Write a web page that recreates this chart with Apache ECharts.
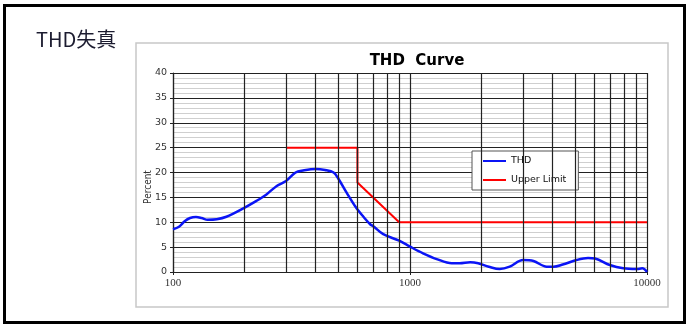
<!DOCTYPE html>
<html>
<head>
<meta charset="utf-8">
<script src="https://cdn.jsdelivr.net/npm/echarts@6/dist/echarts.min.js"></script>
<style>html,body{margin:0;padding:0;background:#fff;}#c{width:689px;height:328px;}</style>
</head>
<body>
<div id="c"></div>
<script>
// Data
var thdFreq = [100, 106, 112, 118, 125, 132, 140, 153, 168, 198, 225, 248, 274, 300, 329, 354, 400, 438, 476, 498, 541, 595, 636, 679, 700, 771, 900, 1000, 1135, 1296, 1500, 1620, 1795, 1940, 2150, 2390, 2635, 3000, 3320, 3775, 4030, 4410, 5040, 5640, 6040, 6970, 7940, 9050, 9550, 10000];
var thdValues = [8.6, 9.1, 10.2, 10.85, 11.05, 10.85, 10.5, 10.6, 11.1, 12.8, 14.3, 15.6, 17.3, 18.3, 20.0, 20.4, 20.7, 20.5, 20.0, 18.8, 15.9, 12.8, 11.1, 9.6, 9.2, 7.6, 6.3, 5.1, 3.75, 2.6, 1.75, 1.75, 1.95, 1.75, 1.07, 0.6, 1.07, 2.4, 2.2, 1.07, 1.07, 1.5, 2.4, 2.8, 2.7, 1.4, 0.74, 0.6, 0.74, 0.0];
var limitFreq = [300, 600, 600, 900, 10000];
var limitValues = [25, 25, 18, 10, 10];
var minorFreqs = [200, 300, 400, 500, 600, 700, 800, 900, 2000, 3000, 4000, 5000, 6000, 7000, 8000, 9000];
var seriesNames = ['THD', 'Upper Limit'];
var chartTitle = 'THD  Curve';
var pageTitle = 'THD失真';
var yName = 'Percent';

function pairs(xs, ys) { return xs.map(function (x, i) { return [x, ys[i]]; }); }

var chart = echarts.init(document.getElementById('c'));
chart.setOption({
  animation: false,
  backgroundColor: '#fff',
  title: [
    { text: pageTitle, left: 31, top: 24, textStyle: { fontFamily: 'Noto Sans CJK SC', fontWeight: 'normal', fontSize: 20, color: '#1c1c30' } },
    { text: chartTitle, left: 412, textAlign: 'center', top: 49, textStyle: { fontFamily: 'DejaVu Sans', fontWeight: 'bold', fontSize: 15, color: '#000' } }
  ],
  graphic: [
    { type: 'rect', z: -10, shape: { x: 4.5, y: 5.5, width: 680, height: 317 }, style: { fill: 'none', stroke: '#000', lineWidth: 3 } },
    { type: 'rect', z: -9, shape: { x: 136, y: 43, width: 532, height: 264 }, style: { fill: '#fff', stroke: '#c8c8c8', lineWidth: 1.5 } },
    { type: 'text', z: 10, x: 148, y: 187, rotation: Math.PI / 2, style: { text: yName, fontSize: 10, fontFamily: 'DejaVu Sans Condensed', fill: '#333', align: 'center', verticalAlign: 'middle' } }
  ],
  legend: {
    data: seriesNames,
    orient: 'vertical',
    left: 472, top: 151,
    padding: [5, 12, 5, 11],
    itemGap: 9,
    itemWidth: 23, itemHeight: 2,
    icon: 'rect',
    backgroundColor: '#fff',
    borderColor: '#555', borderWidth: 1,
    textStyle: { fontSize: 9.5, fontFamily: 'DejaVu Sans', color: '#111' }
  },
  grid: { left: 173, right: 42, top: 73, bottom: 56, show: false },
  xAxis: {
    type: 'log', logBase: 10, min: 100, max: 10000,
    axisLine: { show: true, lineStyle: { color: '#222', width: 1.2 } },
    axisTick: { show: true, length: 3, lineStyle: { color: '#222' } },
    axisLabel: { fontSize: 11, fontFamily: 'Liberation Serif', color: '#333', margin: 6, formatter: function (v) { return String(Math.round(v)); } },
    splitLine: { show: true, lineStyle: { color: '#222', width: 1.2 } },
    minorTick: { show: false }, minorSplitLine: { show: false }
  },
  yAxis: {
    type: 'value', min: 0, max: 40, interval: 5,
    axisLine: { show: true, lineStyle: { color: '#222', width: 1.2 } },
    axisTick: { show: true, length: 3, lineStyle: { color: '#222' } },
    axisLabel: { fontSize: 9.5, fontFamily: 'DejaVu Sans', color: '#333', margin: 6 },
    splitLine: { show: true, lineStyle: { color: '#222', width: 1.2 } },
    minorTick: { show: false, splitNumber: 5 },
    minorSplitLine: { show: true, lineStyle: { color: '#cfcfcf', width: 1 } }
  },
  series: [
    {
      name: 'grid-minor', type: 'line', data: [], silent: true, z: 1,
      markLine: {
        silent: true, symbol: ['none', 'none'], label: { show: false },
        lineStyle: { color: '#222', width: 1.2, type: 'solid' },
        data: minorFreqs.map(function (f) { return { xAxis: f }; })
      }
    },
    {
      name: seriesNames[0], type: 'line', z: 3, smooth: 0.35, showSymbol: false,
      data: pairs(thdFreq, thdValues),
      itemStyle: { color: '#0a14f5' },
      lineStyle: { color: '#0a14f5', width: 2.5 }
    },
    {
      name: seriesNames[1], type: 'line', z: 4, showSymbol: false,
      data: pairs(limitFreq, limitValues),
      itemStyle: { color: '#ff0000' },
      lineStyle: { color: '#ff0000', width: 2 }
    }
  ]
});
</script>
</body>
</html>
